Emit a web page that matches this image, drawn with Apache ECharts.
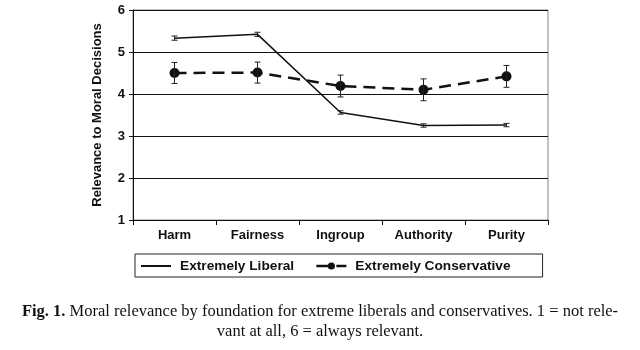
<!DOCTYPE html>
<html>
<head>
<meta charset="utf-8">
<script src="https://cdn.jsdelivr.net/npm/echarts@6/dist/echarts.min.js"></script>
<style>
  html, body { margin: 0; padding: 0; background: #fff; }
</style>
</head>
<body>
<div id="chart" style="width: 640px; height: 350px"></div>
<script>
const categories = ["Harm", "Fairness", "Ingroup", "Authority", "Purity"];
const liberal = [5.33, 5.42, 3.56, 3.25, 3.26];
const liberalErr = [0.05, 0.05, 0.04, 0.04, 0.04];
const conservative = [4.5, 4.51, 4.19, 4.1, 4.42];
const conservativeErr = [0.25, 0.25, 0.26, 0.26, 0.26];

const font = "Liberation Sans, Arial, sans-serif";
const serif = "Liberation Serif, Times New Roman, serif";

function errData(vals, errs) {
	return vals.map((v, i) => [i, v - errs[i], v + errs[i]]);
}

function renderErr(params, api) {
	const lo = api.coord([api.value(0), api.value(1)]);
	const hi = api.coord([api.value(0), api.value(2)]);
	const cap = 3;
	const style = { stroke: "#222", lineWidth: 1 };
	return {
		type: "group",
		children: [
			{ type: "line", shape: { x1: hi[0], y1: hi[1], x2: lo[0], y2: lo[1] }, style },
			{ type: "line", shape: { x1: hi[0] - cap, y1: hi[1], x2: hi[0] + cap, y2: hi[1] }, style },
			{ type: "line", shape: { x1: lo[0] - cap, y1: lo[1], x2: lo[0] + cap, y2: lo[1] }, style }
		]
	};
}

const myChart = echarts.init(document.getElementById("chart"));
const option = {
	animation: false,
	textStyle: { fontFamily: font },
	grid: {
		left: 133,
		right: 92,
		top: 10,
		bottom: 130,
		show: true,
		borderColor: "#888",
		borderWidth: 1
	},
	title: [
		{
			left: "center",
			top: 303,
			padding: 0,
			text: "{b|Fig. 1.} Moral relevance by foundation for extreme liberals and conservatives. 1 = not rele-",
			textStyle: {
				fontFamily: serif,
				fontSize: 16.5,
				fontWeight: "normal",
				color: "#111",
				rich: {
					b: { fontFamily: serif, fontSize: 16.5, fontWeight: "bold", color: "#111" }
				}
			}
		},
		{
			left: "center",
			top: 323,
			padding: 0,
			text: "vant at all, 6 = always relevant.",
			textStyle: { fontFamily: serif, fontSize: 16.5, fontWeight: "normal", color: "#111" }
		}
	],
	legend: {
		top: 254,
		left: 135,
		padding: [5, 32, 4, 5],
		itemGap: 21,
		itemWidth: 30,
		itemHeight: 9,
		borderColor: "#222",
		borderWidth: 1,
		data: [
			{ name: "Extremely Liberal", itemStyle: { opacity: 0 } },
			{ name: "Extremely Conservative", lineStyle: { type: [16, 4], width: 2.5 } }
		],
		textStyle: { fontFamily: font, fontWeight: "bold", fontSize: 13.7, color: "#111", padding: [0, 0, 0, 4] }
	},
	xAxis: {
		type: "category",
		data: categories,
		boundaryGap: true,
		axisLine: { lineStyle: { color: "#111", width: 1 } },
		axisTick: { show: true, length: 5, lineStyle: { color: "#111" } },
		axisLabel: { fontFamily: font, fontWeight: "bold", fontSize: 13, color: "#111", margin: 9 }
	},
	yAxis: {
		type: "value",
		min: 1,
		max: 6,
		interval: 1,
		name: "Relevance to Moral Decisions",
		nameLocation: "middle",
		nameGap: 29,
		nameTextStyle: { fontFamily: font, fontWeight: "bold", fontSize: 13, color: "#111" },
		axisLine: { show: true, lineStyle: { color: "#111", width: 1 } },
		axisTick: { show: true, length: 4, lineStyle: { color: "#111" } },
		axisLabel: { fontFamily: font, fontWeight: "bold", fontSize: 13, color: "#111", margin: 8 },
		splitLine: { show: true, lineStyle: { color: "#111", width: 1 } }
	},
	series: [
		{
			name: "Extremely Liberal",
			type: "line",
			data: liberal,
			symbol: "none",
			itemStyle: { color: "#111" },
			lineStyle: { color: "#111", width: 1.5 },
			z: 3
		},
		{
			name: "Extremely Conservative",
			type: "line",
			data: conservative,
			symbol: "circle",
			symbolSize: 10,
			itemStyle: { color: "#111" },
			lineStyle: { color: "#111", width: 2.5, type: [12, 7] },
			z: 3
		},
		{
			type: "custom",
			renderItem: renderErr,
			data: errData(liberal, liberalErr),
			encode: { x: 0, y: [1, 2] },
			z: 4
		},
		{
			type: "custom",
			renderItem: renderErr,
			data: errData(conservative, conservativeErr),
			encode: { x: 0, y: [1, 2] },
			z: 4
		}
	]
};
myChart.setOption(option);
</script>
</body>
</html>
